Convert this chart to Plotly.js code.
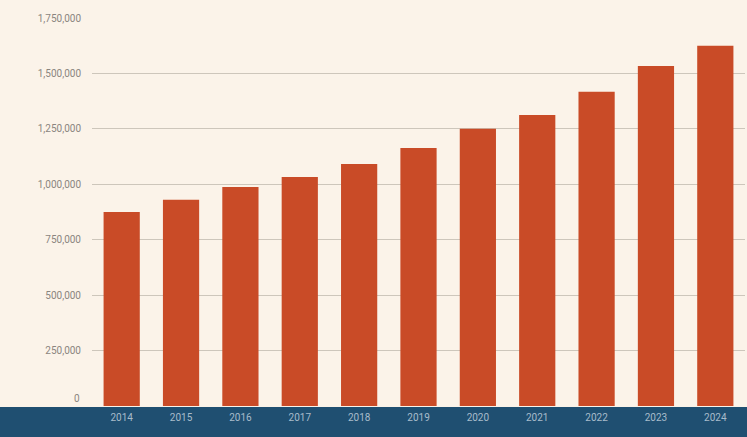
<!DOCTYPE html>
<html>
<head>
<meta charset="utf-8">
<script src="https://cdn.plot.ly/plotly-3.0.1.min.js"></script>
<style>html,body{margin:0;padding:0;background:#fbf3e9;}#chart{width:747px;height:437px;}</style>
</head>
<body>
<div id="chart"></div>
<script>
const years = ['2014','2015','2016','2017','2018','2019','2020','2021','2022','2023','2024'];
const values = [875000, 930000, 988000, 1033000, 1092000, 1164000, 1250000, 1313000, 1417000, 1534000, 1625000];
const yTicks = [250000, 500000, 750000, 1000000, 1250000, 1500000, 1750000];
const yTickLabels = ['250,000','500,000','750,000','1,000,000','1,250,000','1,500,000','1,750,000'];
const zeroLabel = '0';

const W = 747, H = 437;
const margin = {l: 92, r: 2, t: 18, b: 31};
const plotH = H - margin.t - margin.b;
const plotW = W - margin.l - margin.r;

const trace = {
  type: 'bar',
  x: years,
  y: values,
  marker: {color: '#c94b27'},
  hoverinfo: 'x+y'
};

const layout = {
  width: W, height: H,
  margin: margin,
  paper_bgcolor: '#fbf3e9',
  plot_bgcolor: '#fbf3e9',
  bargap: 0.39,
  showlegend: false,
  font: {family: 'Roboto, "DejaVu Sans", sans-serif'},
  xaxis: {
    type: 'category',
    showgrid: false,
    zeroline: false,
    showline: false,
    ticks: '',
    ticklabelstandoff: 4,
    tickfont: {size: 10, color: '#a8bccb', family: 'Roboto, sans-serif'}
  },
  yaxis: {
    range: [0, 1750000],
    tickvals: yTicks,
    ticktext: yTickLabels,
    showgrid: true,
    gridcolor: '#cdc6bb',
    gridwidth: 1,
    zeroline: false,
    showline: false,
    ticks: '',
    ticklabelstandoff: 10,
    tickfont: {size: 10, color: '#8a857f', family: 'Roboto, sans-serif'}
  },
  annotations: [{
    xref: 'paper', yref: 'y',
    x: -10 / plotW, y: 0,
    xanchor: 'right', yanchor: 'middle',
    yshift: 8,
    text: zeroLabel,
    showarrow: false,
    font: {size: 10, color: '#8a857f', family: 'Roboto, sans-serif'}
  }],
  shapes: [{
    type: 'rect',
    xref: 'paper', yref: 'paper',
    x0: -margin.l / plotW, x1: 1 + margin.r / plotW,
    y0: -(margin.b + 2) / plotH, y1: -1 / plotH,
    fillcolor: '#1f4f71',
    line: {width: 0},
    layer: 'below'
  }]
};

Plotly.newPlot('chart', [trace], layout, {displayModeBar: false, staticPlot: true});
</script>
</body>
</html>
